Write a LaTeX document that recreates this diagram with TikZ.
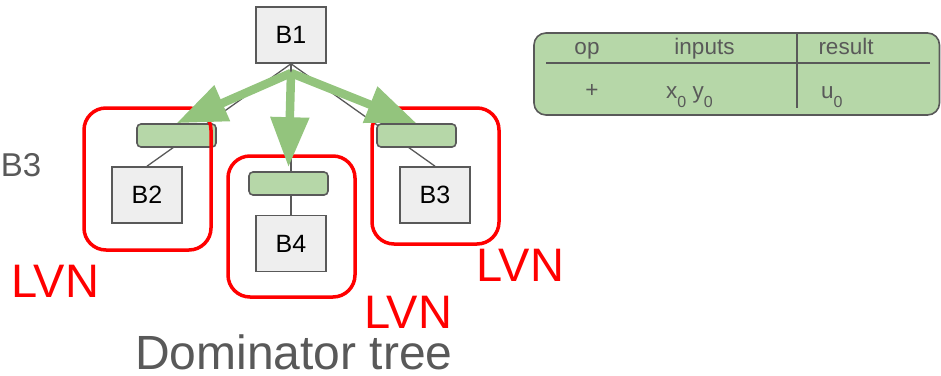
\documentclass[tikz,border=0pt]{standalone}
\usepackage{fontspec}
\setmainfont{Liberation Sans}
\usetikzlibrary{arrows.meta}
\definecolor{boxgray}{HTML}{EEEEEE}
\definecolor{edgegray}{HTML}{595959}
\definecolor{barfill}{HTML}{B6D7A8}
\definecolor{arrowgreen}{HTML}{93C47D}
\definecolor{lvnred}{HTML}{FF0000}
% lowered subscript digit as used in the value table
\newcommand\lowsub[1]{\lower9pt\hbox{\fontsize{16}{16}\selectfont #1}}
\begin{document}
\begin{tikzpicture}[x=1pt,y=-1pt,
  block/.style={draw=edgegray, line width=1.6pt, fill=boxgray, minimum width=70pt,
    minimum height=56pt, inner sep=0pt, font=\fontsize{25}{29}\selectfont},
  bar/.style={draw=edgegray, line width=1.6pt, fill=barfill, rounded corners=4pt,
    minimum width=79pt, minimum height=23pt, inner sep=0pt},
  region/.style={draw=lvnred, line width=3.5pt, rounded corners=22pt,
    minimum width=127pt, inner sep=0pt},
  treeedge/.style={draw=edgegray, line width=1.3pt},
  domarrow/.style={draw=arrowgreen, line width=8.5pt,
    -{Triangle[length=50pt,width=37pt]}},
  lvn/.style={text=lvnred, font=\fontsize{47}{50}\selectfont, anchor=base west, inner sep=0pt},
  tabtext/.style={text=edgegray, font=\fontsize{22.5}{26}\selectfont, inner sep=0pt},
]
\useasboundingbox (0,0) rectangle (941,375);

% basic blocks of the dominator tree
\node[block] (B1) at (291,35) {B1};
\node[block] (B2) at (147,195) {B2};
\node[block] (B4) at (291,243.5) {B4};
\node[block] (B3) at (435,195) {B3};

% tree edges
\draw[treeedge] (B1.south) -- (B2.north);
\draw[treeedge] (B1.south) -- (B4.north);
\draw[treeedge] (B1.south) -- (B3.north);

% value tables handed down to each block
\node[bar] (barL) at (176.5,135.5) {};
\node[bar] (barM) at (288.5,183.5) {};
\node[bar] (barR) at (416.5,135.5) {};

% local value numbering regions
\node[region, minimum height=142pt] (regL) at (147.5,179) {};
\node[region, minimum height=141pt] (regM) at (291.5,226.5) {};
\node[region, minimum height=136pt] (regR) at (435.5,176) {};

% propagation arrows
\coordinate (hub) at (291,73);
\draw[domarrow] (hub) -- (barL.north);
\draw[domarrow] (hub) -- ([yshift=4pt]barM.north);
\draw[domarrow] (hub) -- (barR.north);

% labels
\node[lvn] (lvnL) at (11,297) {LVN};
\node[lvn] (lvnM) at (364,328) {LVN};
\node[lvn] (lvnR) at (476,281) {LVN};
\node[text=edgegray, font=\fontsize{48}{50}\selectfont, anchor=base west, inner sep=0pt]
  (cap) at (135,369) {Dominator tree};
\node[text=edgegray, font=\fontsize{33}{36}\selectfont, anchor=base east, inner sep=0pt]
  (side) at (41.5,176) {B3};

% value table
\node[draw=edgegray, line width=1.6pt, fill=barfill, rounded corners=12pt,
  minimum width=405.5pt, minimum height=82pt, inner sep=0pt] (tbl) at (736.75,74) {};
\coordinate (hL) at (546,63);
\coordinate (hR) at (930,63);
\coordinate (vT) at (797,33);
\coordinate (vB) at (797,108);
\draw[edgegray, line width=1.5pt] (hL) -- (hR);
\draw[edgegray, line width=1.5pt] (vT) -- (vB);
\node[tabtext, anchor=base] (hOp) at (587,54) {op};
\node[tabtext, anchor=base] (hIn) at (704.5,54) {inputs};
\node[tabtext, anchor=base] (hRes) at (846,54) {result};
\node[tabtext, anchor=base] (cOp) at (592,97) {+};
\node[tabtext, anchor=base west] (cIn) at (666,98) {x\lowsub{0} y\lowsub{0}};
\node[tabtext, anchor=base west] (cRes) at (821,98) {u\lowsub{0}};
\end{tikzpicture}
\end{document}
